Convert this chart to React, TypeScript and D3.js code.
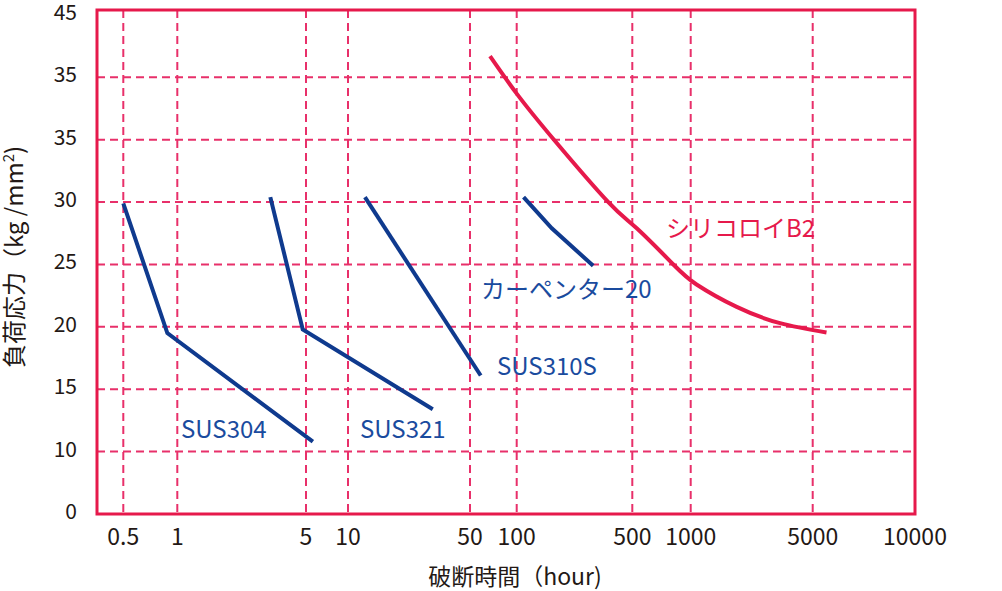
import React, { useRef, useEffect } from 'react';
import * as d3 from 'd3';

// axis ticks (the source figure labels its y grid this way)
const xTicks = [0.5, 1, 5, 10, 50, 100, 500, 1000, 5000, 10000];
const xTickLabels = ['0.5', '1', '5', '10', '50', '100', '500', '1000', '5000', '10000'];
const yTicks = [5, 10, 15, 20, 25, 30, 35, 40, 45];
const yTickLabels = ['0', '10', '15', '20', '25', '30', '35', '35', '45'];

// [hours, stress]
const sus304: [number, number][] = [[0.5, 29.9], [0.88, 19.5], [5.6, 10.8]];
const sus321: [number, number][] = [[3.2, 30.4], [4.8, 19.8], [30.6, 13.4]];
const sus310s: [number, number][] = [[12.5, 30.4], [58.6, 16.1]];
const carpenter20: [number, number][] = [[110, 30.4], [163, 27.9], [290, 24.9]];
const silicoloyB2: [number, number][] = [
  [67.3, 41.7], [100, 38.7], [168, 35], [358, 30], [527, 27.9],
  [814, 25], [1080, 23.4], [1835, 21.6], [3250, 20.3], [5490, 19.55]
];

const FONT = '"Noto Sans CJK JP", "Noto Sans", sans-serif';
const RED = '#e6194b';
const GRID = '#e8306a';
const BLUE = '#0f3a8e';
const LABEL_BLUE = '#1a4b9e';
const INK = '#231815';

const Chart: React.FC = () => {
  const svgRef = useRef<SVGSVGElement>(null);

  useEffect(() => {
    if (!svgRef.current) return;
    const svg = d3.select(svgRef.current);
    svg.selectAll('*').remove();

    const left = 97, right = 915, top = 10, bottom = 514;

    // the printed decades are not quite even, so follow the printed grid
    const xPos = [123.3, 177.3, 306, 348, 470, 516.7, 632.3, 690.7, 812.7, right];
    const x = d3.scaleLog().domain(xTicks).range(xPos);
    const y = d3.scaleLinear().domain([5, 45.4]).range([bottom, top]);

    // grid
    const grid = svg.append('g')
      .attr('stroke', GRID)
      .attr('stroke-width', 2)
      .attr('stroke-dasharray', '8,5');
    grid.selectAll('line.v')
      .data(xTicks.slice(0, -1))
      .enter()
      .append('line')
      .attr('x1', (d) => x(d))
      .attr('x2', (d) => x(d))
      .attr('y1', top)
      .attr('y2', bottom);
    grid.selectAll('line.h')
      .data(yTicks.slice(1, -1))
      .enter()
      .append('line')
      .attr('x1', left)
      .attr('x2', right)
      .attr('y1', (d) => y(d))
      .attr('y2', (d) => y(d));

    // frame
    svg.append('rect')
      .attr('x', left)
      .attr('y', top)
      .attr('width', right - left)
      .attr('height', bottom - top)
      .attr('fill', 'none')
      .attr('stroke', RED)
      .attr('stroke-width', 3);

    // tick labels
    svg.append('g')
      .selectAll('text')
      .data(yTicks)
      .enter()
      .append('text')
      .attr('x', 77)
      .attr('y', (d) => y(d) + 5)
      .attr('text-anchor', 'end')
      .attr('font-size', 21)
      .attr('fill', INK)
      .text((d, i) => yTickLabels[i]);

    svg.append('g')
      .selectAll('text')
      .data(xTicks)
      .enter()
      .append('text')
      .attr('x', (d) => x(d))
      .attr('y', 545)
      .attr('text-anchor', 'middle')
      .attr('font-size', 23)
      .attr('fill', INK)
      .text((d, i) => xTickLabels[i]);

    // axis titles
    svg.append('text')
      .attr('x', 515)
      .attr('y', 585)
      .attr('text-anchor', 'middle')
      .attr('font-size', 23)
      .attr('fill', INK)
      .text('破断時間（hour)');

    const yTitle = svg.append('text')
      .attr('transform', 'translate(23,257) rotate(-90)')
      .attr('text-anchor', 'middle')
      .attr('font-size', 24)
      .attr('fill', INK);
    yTitle.append('tspan').text('負荷応力（kg /mm');
    yTitle.append('tspan').attr('font-size', 15).attr('dy', -9).text('2');
    yTitle.append('tspan').attr('dy', 9).text(')');

    // series
    const straight = d3.line<[number, number]>()
      .x((d) => x(d[0]))
      .y((d) => y(d[1]));
    const smooth = d3.line<[number, number]>()
      .x((d) => x(d[0]))
      .y((d) => y(d[1]))
      .curve(d3.curveNatural);

    [sus304, sus321, sus310s, carpenter20].forEach((s) => {
      svg.append('path')
        .attr('d', straight(s))
        .attr('fill', 'none')
        .attr('stroke', BLUE)
        .attr('stroke-width', 4);
    });
    svg.append('path')
      .attr('d', smooth(silicoloyB2))
      .attr('fill', 'none')
      .attr('stroke', RED)
      .attr('stroke-width', 4);

    // series labels
    const labels = [
      { text: 'SUS304', x: 181, y: 438, color: LABEL_BLUE },
      { text: 'SUS321', x: 360, y: 438, color: LABEL_BLUE },
      { text: 'SUS310S', x: 497, y: 375, color: LABEL_BLUE },
      { text: 'カーペンター20', x: 481, y: 298, color: LABEL_BLUE },
      { text: 'シリコロイB2', x: 666, y: 237, color: RED }
    ];
    svg.append('g')
      .selectAll('text')
      .data(labels)
      .enter()
      .append('text')
      .attr('x', (d) => d.x)
      .attr('y', (d) => d.y)
      .attr('font-size', 24)
      .attr('fill', (d) => d.color)
      .text((d) => d.text);
  }, []);

  return (
    <svg
      ref={svgRef}
      width={1002}
      height={591}
      style={{ position: 'absolute', left: 0, top: 0, fontFamily: FONT, background: '#fff' }}
    />
  );
};

export default function App() {
  return <Chart />;
}
